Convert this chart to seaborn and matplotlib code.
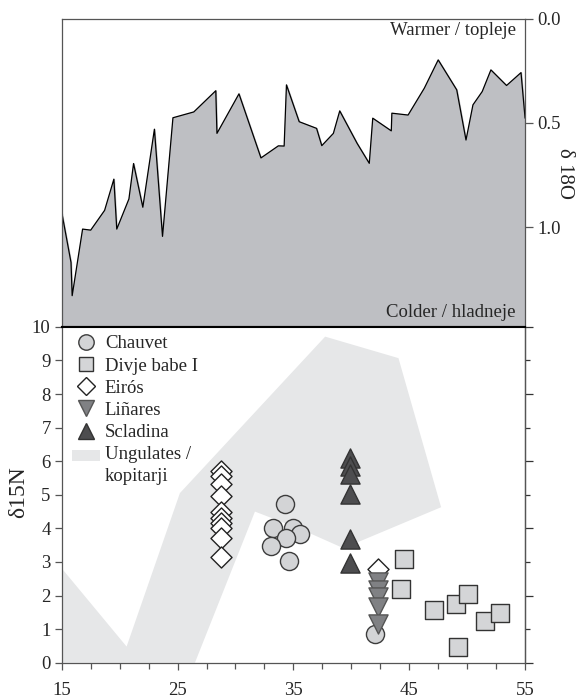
import numpy as np
import pandas as pd
import matplotlib
matplotlib.use("Agg")
import matplotlib.pyplot as plt
import seaborn as sns
from matplotlib.patches import Patch, Rectangle
from matplotlib.lines import Line2D
from matplotlib.legend_handler import HandlerPatch

sns.set_style("ticks")
plt.rcParams['font.family'] = ['Liberation Serif', 'DejaVu Serif']

# ---- data: oxygen isotope curve (top panel) ----
o18_age = [15.0, 15.8, 15.9, 16.8, 17.5, 18.7, 19.5, 19.75, 20.8, 21.2,
           22.0, 23.0, 23.7, 24.6, 26.4, 28.3, 28.4, 30.3, 32.2, 33.7,
           34.2, 34.4, 35.5, 37.0, 37.45, 38.45, 39.0, 40.5, 41.55, 41.85,
           43.45, 43.5, 44.9, 46.3, 47.5, 49.1, 49.9, 50.5, 51.3, 52.05,
           53.4, 54.65, 55.0]
o18_value = [0.93, 1.17, 1.33, 1.01, 1.015, 0.92, 0.77, 1.01, 0.865, 0.695,
             0.905, 0.53, 1.045, 0.475, 0.447, 0.345, 0.55, 0.36, 0.668, 0.61,
             0.611, 0.317, 0.494, 0.526, 0.609, 0.55, 0.442, 0.598, 0.694, 0.477,
             0.538, 0.453, 0.462, 0.333, 0.197, 0.341, 0.582, 0.413, 0.349, 0.245,
             0.32, 0.258, 0.477]

# ---- data: nitrogen isotopes (bottom panel) ----
chauvet_age = [34.3, 33.2, 34.95, 35.6, 34.4, 33.1, 34.6, 42.05]
chauvet_n15 = [4.72, 4.0, 4.02, 3.82, 3.7, 3.48, 3.04, 0.85]
divje_age = [44.55, 44.25, 47.15, 49.0, 50.1, 51.55, 52.85, 49.25]
divje_n15 = [3.09, 2.2, 1.57, 1.74, 2.05, 1.25, 1.49, 0.48]
eiros_age = [28.75] * 10 + [42.3]
eiros_n15 = [5.72, 5.55, 5.32, 4.97, 4.48, 4.3, 4.15, 4.0, 3.7, 3.15, 2.78]
linares_age = [42.3, 42.3, 42.3, 42.3, 42.3]
linares_n15 = [2.4, 2.17, 1.95, 1.65, 1.15]
scladina_age = [39.9, 39.9, 39.9, 39.9, 39.9, 39.9]
scladina_n15 = [6.09, 5.86, 5.61, 5.02, 3.68, 2.98]

ungulate_x = [15.0, 15.0, 20.6, 25.2, 37.74, 44.07, 47.75, 39.32, 35.6, 31.68, 26.5]
ungulate_y = [0.0, 2.81, 0.48, 5.05, 9.71, 9.07, 4.63, 3.41, 3.98, 4.5, 0.0]

x_ticks = [15, 25, 35, 45, 55]

fig = plt.figure(figsize=(5.77, 7.0), dpi=100)
ax_top = fig.add_axes([0.107, 0.533, 0.803, 0.44])
ax_bot = fig.add_axes([0.107, 0.0533, 0.803, 0.4797])

spine_col = '#555555'
fs = 13.5

# ---- top panel ----
ax_top.fill_between(o18_age, o18_value, 2.0, color='#bebfc3', zorder=1)
sns.lineplot(x=o18_age, y=o18_value, ax=ax_top, color='black', lw=0.9,
             sort=False, estimator=None, zorder=2)
ax_top.set_xlim(15, 55)
ax_top.set_ylim(1.48, 0.0)
ax_top.set_xticks([])
ax_top.yaxis.tick_right()
ax_top.set_yticks([0.0, 0.5, 1.0])
ax_top.set_yticklabels(['0.0', '0.5', '1.0'], fontsize=fs)
ax_top.tick_params(axis='y', direction='out', length=6, width=0.9,
                   color=spine_col, pad=3)
ax_top.set_ylabel('')
ax_top.set_xlabel('')
for s in ['top', 'left', 'right']:
    ax_top.spines[s].set_color(spine_col)
    ax_top.spines[s].set_linewidth(0.9)
ax_top.spines['bottom'].set_color('black')
ax_top.spines['bottom'].set_linewidth(1.5)
ax_top.text(0.98, 0.99, 'Warmer / topleje', transform=ax_top.transAxes,
            ha='right', va='top', fontsize=fs)
ax_top.text(0.98, 0.02, 'Colder / hladneje', transform=ax_top.transAxes,
            ha='right', va='bottom', fontsize=fs)
fig.text(565 / 577, 1 - 173 / 700, 'δ 18O', rotation=270, ha='center',
         va='center', fontsize=15)

# ---- bottom panel ----
ax_bot.fill(ungulate_x, ungulate_y, color='#e6e7e8', lw=0, zorder=1)

sites = [
    ('Chauvet', chauvet_age, chauvet_n15, 'o', '#d3d4d6', '#3c3c3c', 170),
    ('Divje babe I', divje_age, divje_n15, 's', '#d4d5d7', '#333333', 150),
    ('Eirós', eiros_age, eiros_n15, 'D', 'white', '#222222', 115),
    ('Liñares', linares_age, linares_n15, 'v', '#808184', '#555555', 190),
    ('Scladina', scladina_age, scladina_n15, '^', '#4d4d4f', '#333333', 190),
]
handles = []
for name, xs, ys, mk, fc, ec, sz in sites:
    df = pd.DataFrame({'age': xs, 'd15N': ys})
    sns.scatterplot(data=df, x='age', y='d15N', ax=ax_bot, marker=mk,
                    color=fc, edgecolor=ec, linewidth=1.0, s=sz, zorder=3,
                    legend=False)
    handles.append(Line2D([], [], ls='none', marker=mk, markerfacecolor=fc,
                          markeredgecolor=ec, markeredgewidth=1.0,
                          markersize=np.sqrt(sz) * 0.85, label=name))
ung_patch = Patch(facecolor='#e6e7e8', edgecolor='none',
                  label='Ungulates /\nkopitarji')
handles.append(ung_patch)


def raised_patch(legend, orig_handle, xdescent, ydescent, width, height, fontsize):
    return Rectangle((-xdescent, -ydescent + 0.62 * fontsize), width, height * 0.8)


ax_bot.set_xlim(15, 55)
ax_bot.set_ylim(0, 10)
ax_bot.set_xticks(x_ticks)
ax_bot.set_xticklabels([str(t) for t in x_ticks], fontsize=fs)
ax_bot.set_xticks(np.arange(15, 55.1, 2.5), minor=True)
ax_bot.set_yticks(range(0, 11))
ax_bot.set_yticklabels([str(t) for t in range(0, 11)], fontsize=fs)
ax_bot.tick_params(axis='x', which='major', direction='out', length=5,
                   width=0.9, color=spine_col, pad=9)
ax_bot.tick_params(axis='x', which='minor', direction='out', length=4,
                   width=0.9, color=spine_col)
ax_bot.tick_params(axis='y', which='major', direction='out', length=5,
                   width=0.9, color=spine_col, pad=3)
ax_bot.set_xlabel('')
ax_bot.set_ylabel('')
for s in ['left', 'right', 'bottom']:
    ax_bot.spines[s].set_color(spine_col)
    ax_bot.spines[s].set_linewidth(0.9)
ax_bot.spines['top'].set_color('black')
ax_bot.spines['top'].set_linewidth(1.5)

# right-hand ticks (long at even, short at odd values)
ax_r = ax_bot.secondary_yaxis('right')
ax_r.set_yticks([0, 2, 4, 6, 8, 10])
ax_r.set_yticks([1, 3, 5, 7, 9], minor=True)
ax_r.set_yticklabels([])
ax_r.tick_params(which='major', direction='out', length=6, width=0.9,
                 color='#333333')
ax_r.tick_params(which='minor', direction='out', length=3.5, width=0.9,
                 color='#333333')
ax_r.spines['right'].set_color(spine_col)
ax_r.spines['right'].set_linewidth(0.9)

fig.text(19 / 577, 1 - 492 / 700, 'δ15N', rotation=90, ha='center',
         va='center', fontsize=17)

leg = ax_bot.legend(handles=handles, loc='upper left', frameon=False,
                    fontsize=fs, handlelength=1.45, handletextpad=0.28,
                    labelspacing=0.27, borderaxespad=0.05,
                    bbox_to_anchor=(0.005, 1.0),
                    handler_map={Patch: HandlerPatch(patch_func=raised_patch)})
for t in leg.get_texts():
    t.set_linespacing(1.4)

fig.savefig('out.png', dpi=100)
